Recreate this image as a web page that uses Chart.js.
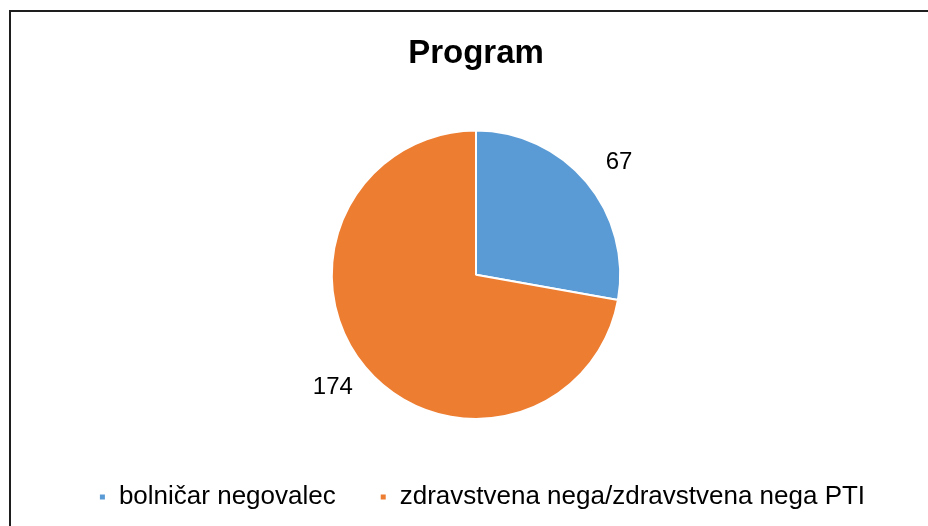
<!DOCTYPE html>
<html>
<head>
<meta charset="utf-8">
<script src="https://cdn.jsdelivr.net/npm/chart.js@4/dist/chart.umd.min.js"></script>
<style>
  html, body { margin: 0; padding: 0; background: #fff; overflow: hidden; }
  #wrap { position: relative; width: 928px; height: 526px; overflow: hidden; }
  #frame { position: absolute; left: 9px; top: 10px; width: 1000px; height: 1000px; border: 2px solid #1e1e1e; }
  canvas { position: absolute; left: 0; top: 0; }
</style>
</head>
<body>
<div id="wrap">
  <div id="frame"></div>
  <canvas id="chart" width="928" height="526"></canvas>
</div>
<script>
const categories = ['bolničar negovalec', 'zdravstvena nega/zdravstvena nega PTI'];
const values = [67, 174];
const colors = ['#5B9BD5', '#ED7D31'];
const titleText = 'Program';

const fontFamily = "'Liberation Sans', Arial, sans-serif";

// draws the value next to each slice, outside the pie
var outsideLabels = {
    id: 'outsideLabels',
    afterDatasetsDraw: function(chart) {
        const ctx = chart.ctx;
        const meta = chart.getDatasetMeta(0);
        ctx.save();
        ctx.font = '24px ' + fontFamily;
        ctx.fillStyle = '#000';
        ctx.textAlign = 'center';
        ctx.textBaseline = 'middle';
        meta.data.forEach(function(arc, i) {
            const p = arc.getProps(['x', 'y', 'startAngle', 'endAngle', 'outerRadius'], true);
            // nudge a little toward where excel puts its best-fit labels
            const mid = (p.startAngle + p.endAngle) / 2 + 0.03;
            const r = p.outerRadius + 38;
            ctx.fillText(String(values[i]), p.x + Math.cos(mid) * r, p.y + Math.sin(mid) * r);
        });
        ctx.restore();
    }
};

// keep the legend low while the pie gets a bit more room below it
var legendDrop = {
    id: 'legendDrop',
    afterLayout: function(chart) {
        chart.legend.top += 20;
        chart.legend.bottom += 20;
        chart.legend.left += 6;
        chart.legend.right += 6;
    }
};

window.onload = function() {
    const ctx = document.getElementById('chart').getContext('2d');
    new Chart(ctx, {
        type: 'pie',
        data: {
            labels: categories,
            datasets: [{
                data: values,
                backgroundColor: colors,
                borderColor: '#ffffff',
                borderWidth: 2
            }]
        },
        options: {
            responsive: false,
            animation: false,
            layout: {
                padding: { left: 24, right: 0, top: 0, bottom: 26 }
            },
            plugins: {
                title: {
                    display: true,
                    text: titleText,
                    color: '#000',
                    font: { family: fontFamily, size: 33, weight: 'bold' },
                    padding: { top: 34, bottom: 56 }
                },
                legend: {
                    position: 'bottom',
                    labels: {
                        color: '#000',
                        font: { family: fontFamily, size: 26 },
                        boxWidth: 7,
                        boxHeight: 7,
                        padding: 44
                    }
                },
                tooltip: { enabled: false }
            }
        },
        plugins: [outsideLabels, legendDrop]
    });
};
</script>
</body>
</html>
